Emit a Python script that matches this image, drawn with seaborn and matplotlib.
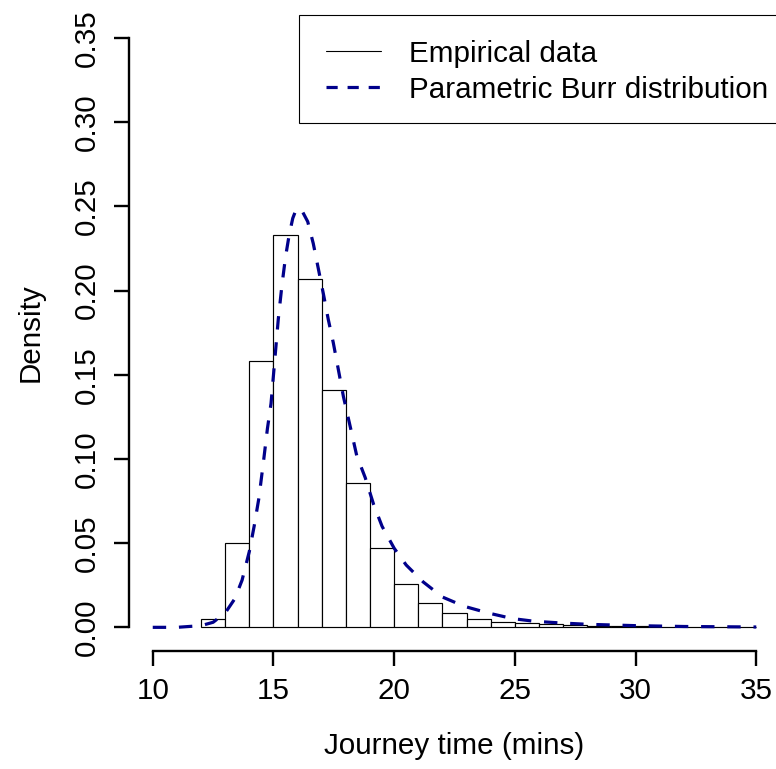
import numpy as np
import pandas as pd
import matplotlib
matplotlib.use("Agg")
import matplotlib.pyplot as plt
from matplotlib.patches import Rectangle
from matplotlib.lines import Line2D
import seaborn as sns

# ---- data ----
bin_left = [12, 13, 14, 15, 16, 17, 18, 19, 20, 21, 22, 23,
            24, 25, 26, 27, 28, 29, 30, 31, 32, 33, 34]
bin_density = [0.005, 0.050, 0.158, 0.233, 0.207, 0.141, 0.086, 0.047,
               0.026, 0.0144, 0.0085, 0.0052, 0.0033, 0.0024, 0.0017,
               0.0011, 0.0008, 0.0006, 0.0005, 0.0004, 0.0003, 0.0002, 0.0002]

curve_x = [10, 11, 12.0, 12.5, 13.0, 13.4, 13.7, 14.0, 14.2, 14.4, 14.6, 14.75,
           14.9, 15.05, 15.2, 15.35, 15.5, 15.65, 15.8, 15.96, 16.2, 16.42,
           16.65, 16.86, 17.07, 17.27, 17.48, 17.69, 17.9, 18.2, 18.45, 18.8,
           19.15, 19.5, 20.0, 20.5, 21.2, 22.0, 22.9, 23.9, 24.9, 25.8, 26.9,
           28, 30, 32, 35]
curve_y = [0, 0, 0.001, 0.003, 0.0085, 0.017, 0.028, 0.045, 0.060, 0.077, 0.100,
           0.118, 0.133, 0.158, 0.183, 0.203, 0.220, 0.233, 0.243, 0.249, 0.247,
           0.241, 0.228, 0.213, 0.198, 0.183, 0.169, 0.153, 0.137, 0.118, 0.102,
           0.089, 0.073, 0.060, 0.047, 0.037, 0.027, 0.018, 0.0125, 0.0085,
           0.0052, 0.0036, 0.0026, 0.0018, 0.0010, 0.0005, 0.0002]

x_ticks = [10, 15, 20, 25, 30, 35]
y_ticks = [0.00, 0.05, 0.10, 0.15, 0.20, 0.25, 0.30, 0.35]
y_tick_labels = ["0.00", "0.05", "0.10", "0.15", "0.20", "0.25", "0.30", "0.35"]
legend_labels = ["Empirical data", "Parametric Burr distribution"]
x_label = "Journey time (mins)"
y_label = "Density"

# ---- styling ----
sns.set_theme(style="white")
plt.rcParams['font.family'] = ['Liberation Sans', 'DejaVu Sans']
FS = 21.3
CURVE_COLOR = "#00008B"

W, H = 776, 769
fig = plt.figure(figsize=(W / 100, H / 100), dpi=100)

def fx(px):
    return px / W

def fy(py):
    return 1 - py / H

# plot region (R usr region: x 9..36, y -0.014..0.364)
left_px, right_px = 128.6, 780.4
top_px, bottom_px = 14.6, 650.9
ax = fig.add_axes([fx(left_px), fy(bottom_px),
                   fx(right_px) - fx(left_px), fy(top_px) - fy(bottom_px)])
ax.set_facecolor("white")

hist_df = pd.DataFrame({"mid": np.array(bin_left) + 0.5, "dens": bin_density})
edges = list(bin_left) + [bin_left[-1] + 1]
sns.histplot(data=hist_df, x="mid", weights="dens", bins=edges, stat="count",
             color="white", alpha=1, edgecolor="black", linewidth=0.85, ax=ax)

curve_df = pd.DataFrame({"x": curve_x, "y": curve_y})
sns.lineplot(data=curve_df, x="x", y="y", ax=ax, color=CURVE_COLOR,
             linewidth=2.3, linestyle=(0, (4.2, 4.0)), sort=True)

ax.set_xlim(9, 36)
ax.set_ylim(-0.014, 0.364)

for s in ["top", "right"]:
    ax.spines[s].set_visible(False)
for s in ["left", "bottom"]:
    ax.spines[s].set_linewidth(1.7)
    ax.spines[s].set_color("black")
ax.spines["left"].set_bounds(0, 0.35)
ax.spines["bottom"].set_bounds(10, 35)

ax.set_xticks(x_ticks)
ax.set_xticklabels([str(v) for v in x_ticks])
ax.set_yticks(y_ticks)
ax.set_yticklabels(y_tick_labels, rotation=90, va="center")
ax.tick_params(axis="both", which="major", direction="out", length=10.8,
               width=1.7, color="black", labelsize=FS, labelcolor="black",
               left=True, bottom=True)
ax.tick_params(axis="x", pad=8)
ax.tick_params(axis="y", pad=9.5)
ax.grid(False)

ax.set_xlabel(x_label, fontsize=FS, labelpad=19.5, color="black")
ax.set_ylabel(y_label, fontsize=FS, labelpad=19.8, color="black")

# ---- legend (R style, top-right of plot region) ----
box = Rectangle((fx(299.3), fy(122.7)), fx(780.4) - fx(299.3),
                fy(14.6) - fy(122.7), transform=fig.transFigure,
                facecolor="white", edgecolor="black", linewidth=0.8,
                zorder=5)
fig.add_artist(box)
fig.add_artist(Line2D([fx(326), fx(380.7)], [fy(51), fy(51)],
                      transform=fig.transFigure, color="black",
                      linewidth=0.8, zorder=6))
fig.add_artist(Line2D([fx(326), fx(380.7)], [fy(87), fy(87)],
                      transform=fig.transFigure, color=CURVE_COLOR,
                      linewidth=2.3, linestyle=(0, (3.5, 3.1)), zorder=6))
fig.text(fx(409), fy(61.5), legend_labels[0], fontsize=FS, va="baseline",
         ha="left", color="black", zorder=7)
fig.text(fx(409), fy(98), legend_labels[1], fontsize=FS, va="baseline",
         ha="left", color="black", zorder=7)

fig.savefig("out.png", dpi=100, facecolor="white")
